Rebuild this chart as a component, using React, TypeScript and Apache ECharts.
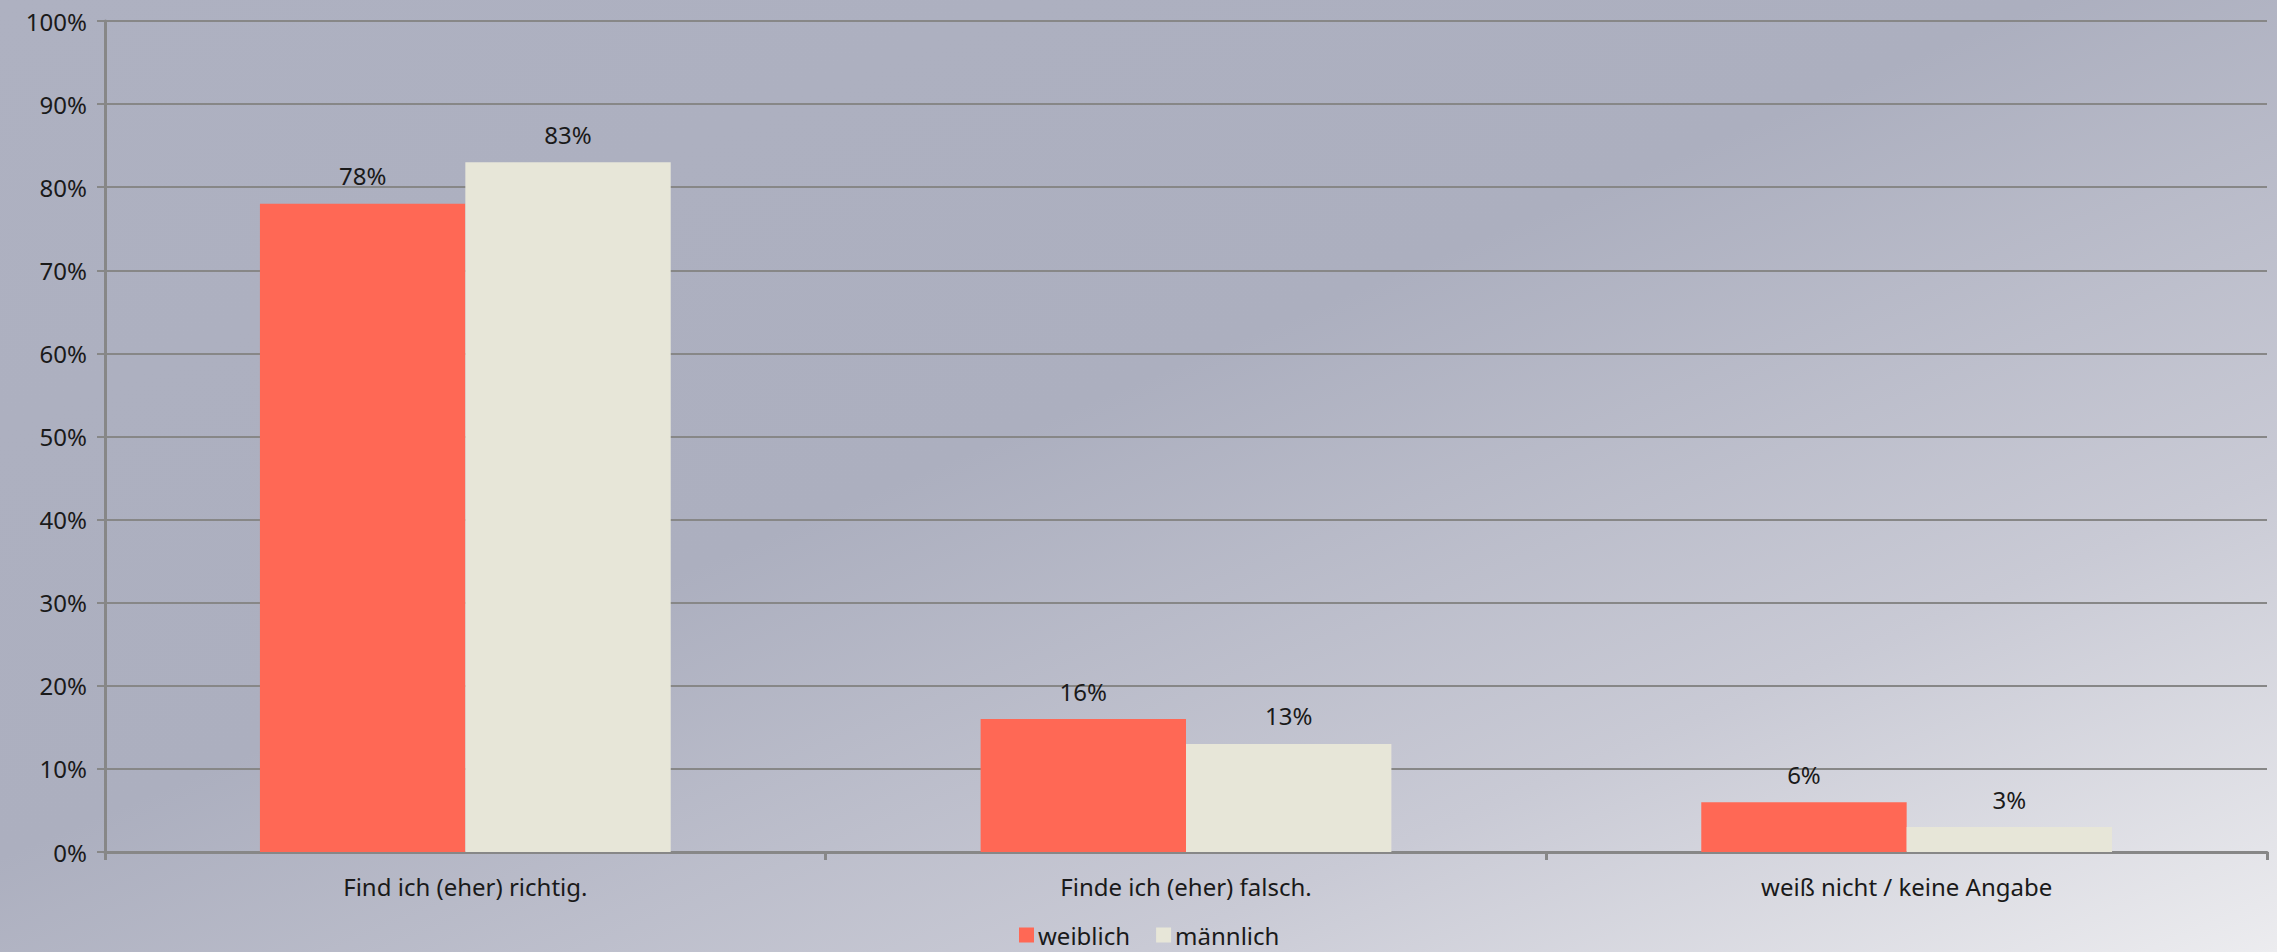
import React, { useEffect, useRef } from "react";
import * as echarts from "echarts";

const categories = ["Find ich (eher) richtig.", "Finde ich (eher) falsch.", "weiß nicht / keine Angabe"];
const weiblich = [78, 16, 6];
const maennlich = [83, 13, 3];
const seriesNames = ["weiblich", "männlich"];

const FONT = "'Noto Sans', 'Open Sans', sans-serif";
const TEXT = "#1a1a1a";
const LINE = "#878787";

export default function App() {
  const ref = useRef<HTMLDivElement>(null);
  useEffect(() => {
    document.body.style.margin = "0";
    const chart = echarts.init(ref.current!, null, { renderer: "svg" });
    const label = {
      show: true,
      position: "top",
      distance: 16,
      formatter: "{c}%",
      color: TEXT,
      fontSize: 24,
      fontFamily: FONT,
    };
    chart.setOption({
      animation: false,
      backgroundColor: "transparent",
      textStyle: { fontFamily: FONT },
      grid: { left: 105, right: 10, top: 21, bottom: 100 },
      legend: {
        bottom: 0,
        left: 1014,
        itemWidth: 15,
        itemHeight: 15,
        itemGap: 26,
        icon: "rect",
        textStyle: { color: TEXT, fontSize: 24, fontFamily: FONT, padding: [0, 0, 0, -1] },
        data: seriesNames,
      },
      xAxis: {
        type: "category",
        data: categories,
        axisLine: { lineStyle: { color: LINE, width: 3 } },
        axisTick: { show: true, length: 8, lineStyle: { color: LINE, width: 3 } },
        axisLabel: { color: TEXT, fontSize: 24, fontFamily: FONT, margin: 22 },
      },
      yAxis: {
        type: "value",
        min: 0,
        max: 100,
        interval: 10,
        axisLine: { show: true, lineStyle: { color: LINE, width: 3 } },
        axisTick: { show: true, length: 8, lineStyle: { color: LINE, width: 2 } },
        splitLine: { lineStyle: { color: LINE, width: 2 } },
        axisLabel: { color: TEXT, fontSize: 24, fontFamily: FONT, formatter: "{value}%", margin: 18 },
      },
      series: [
        {
          name: seriesNames[0],
          type: "bar",
          data: weiblich,
          barGap: "0%",
          barCategoryGap: "43%",
          itemStyle: { color: "#ff6855" },
          label,
        },
        {
          name: seriesNames[1],
          type: "bar",
          data: maennlich,
          barGap: "0%",
          barCategoryGap: "43%",
          itemStyle: { color: "#e7e6d8" },
          label,
        },
      ],
    });
    return () => chart.dispose();
  }, []);
  return (
    <div
      style={{
        position: "fixed",
        left: 0,
        top: 0,
        width: 2277,
        height: 952,
        background: "linear-gradient(to bottom right, #aeb1c1 0%, #acafbf 45%, #c9cad5 75%, #ececef 100%)",
      }}
    >
      <div ref={ref} style={{ width: 2277, height: 952 }} />
    </div>
  );
}
